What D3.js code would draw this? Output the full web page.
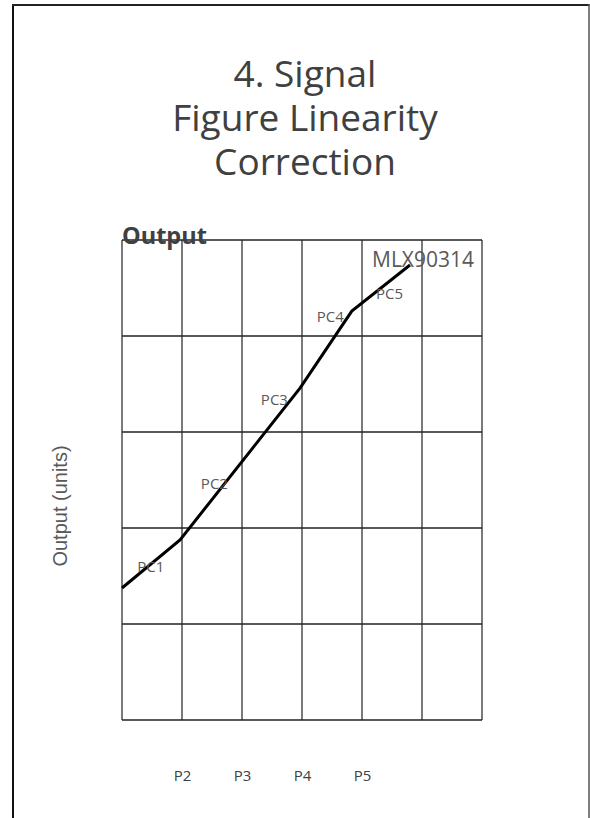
<!DOCTYPE html>
<html>
<head>
<meta charset="utf-8">
<script src="https://cdn.jsdelivr.net/npm/d3@7"></script>
<style>
  html, body { margin: 0; padding: 0; background: #fff; }
  svg { display: block; }
</style>
</head>
<body>
<svg id="chart" width="590" height="818"></svg>
<script>
// ---- data ----
const titleLines = ["4. Signal", "Figure Linearity", "Correction"];
const curveX = [0, 0.967, 2.97, 3.83, 4.8];
const curveY = [1.375, 1.875, 3.46, 4.26, 4.74];
const pcLabels = ["PC1", "PC2", "PC3", "PC4", "PC5"];
const pcLabelX = [0.48, 1.54, 2.54, 3.47, 4.46];
const pcLabelY = [1.54, 2.41, 3.28, 4.15, 4.385];
const xTickLabels = ["P2", "P3", "P4", "P5"];
const xTickValues = [1, 2, 3, 4];
const seriesName = "MLX90314";
const yTitle = "Output (units)";
const cornerTitle = "Output";

// ---- layout ----
const svg = d3.select("#chart");
const W = 590, H = 818;
const plot = { left: 122, right: 482, top: 240, bottom: 720 };
const x = d3.scaleLinear().domain([0, 6]).range([plot.left, plot.right]);
const y = d3.scaleLinear().domain([0, 5]).range([plot.bottom, plot.top]);

// page frame
svg.append("line").attr("x1", 13).attr("x2", 13).attr("y1", 4).attr("y2", H)
  .attr("stroke", "#111").attr("stroke-width", 2);
svg.append("line").attr("x1", 12).attr("x2", 589.5).attr("y1", 5).attr("y2", 5)
  .attr("stroke", "#222").attr("stroke-width", 2);
svg.append("line").attr("x1", 589).attr("x2", 589).attr("y1", 4).attr("y2", H)
  .attr("stroke", "#555").attr("stroke-width", 1.5);

// title
const title = svg.append("text")
  .attr("text-anchor", "middle")
  .attr("font-family", "'Open Sans', sans-serif")
  .attr("font-size", 37)
  .attr("fill", "#404040");
titleLines.forEach((t, i) => {
  title.append("tspan").attr("x", 305).attr("y", 86.7 + i * 44.2).text(t);
});

// grid
const g = svg.append("g");
g.selectAll("line.v").data(d3.range(0, 7)).join("line")
  .attr("class", "v")
  .attr("x1", d => x(d)).attr("x2", d => x(d))
  .attr("y1", plot.top).attr("y2", plot.bottom)
  .attr("stroke", "#333").attr("stroke-width", 1.3);
g.selectAll("line.h").data(d3.range(0, 6)).join("line")
  .attr("class", "h")
  .attr("x1", plot.left).attr("x2", plot.right)
  .attr("y1", d => y(d)).attr("y2", d => y(d))
  .attr("stroke", "#222").attr("stroke-width", 1.3);

// x tick labels via axis
const xAxis = d3.axisBottom(x).tickValues(xTickValues)
  .tickFormat((d, i) => xTickLabels[i]).tickSize(0).tickPadding(0);
const ax = svg.append("g").attr("transform", `translate(0, 766)`).call(xAxis);
ax.select(".domain").remove();
ax.selectAll("text")
  .attr("font-family", "'Open Sans', sans-serif")
  .attr("font-size", 15)
  .attr("fill", "#404040")
  .attr("dy", 0).attr("y", 15);

// curve
const pts = curveX.map((v, i) => [v, curveY[i]]);
svg.append("path")
  .attr("d", d3.line().x(d => x(d[0])).y(d => y(d[1]))(pts))
  .attr("fill", "none").attr("stroke", "#000").attr("stroke-width", 3)
  .attr("stroke-linejoin", "miter");

// PC labels
svg.selectAll("text.pc").data(pcLabels).join("text")
  .attr("class", "pc")
  .attr("x", (d, i) => x(pcLabelX[i]))
  .attr("y", (d, i) => y(pcLabelY[i]))
  .attr("text-anchor", "middle")
  .attr("font-family", "'Open Sans', sans-serif")
  .attr("font-size", 15)
  .attr("fill", "#595959")
  .text(d => d);

// series name
svg.append("text")
  .attr("x", 372).attr("y", 266.5)
  .attr("font-family", "'Open Sans', sans-serif")
  .attr("font-size", 21)
  .attr("fill", "#595959")
  .text(seriesName);

// corner title
svg.append("text")
  .attr("x", 122).attr("y", 244)
  .attr("font-family", "'Open Sans', sans-serif")
  .attr("font-weight", "bold")
  .attr("font-size", 23.5)
  .attr("fill", "#404040")
  .text(cornerTitle);

// y title
svg.append("text")
  .attr("transform", "translate(67, 506) rotate(-90)")
  .attr("text-anchor", "middle")
  .attr("font-family", "'Liberation Sans', Arial, sans-serif")
  .attr("font-size", 20)
  .attr("fill", "#595959")
  .text(yTitle);
</script>
</body>
</html>
